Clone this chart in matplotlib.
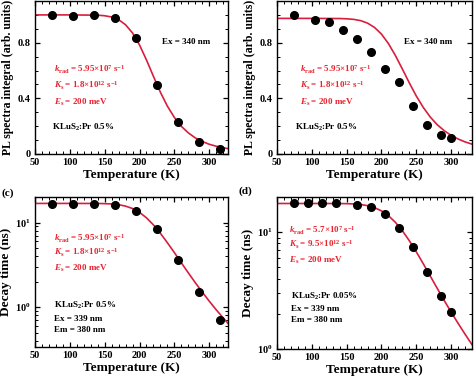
# PL integral and decay time vs temperature, four panels
import matplotlib
matplotlib.use("Agg")
import matplotlib.pyplot as plt
from matplotlib.ticker import MultipleLocator, NullFormatter, LogLocator, LogFormatterMathtext

plt.rcParams['font.family'] = 'Liberation Serif'
plt.rcParams['font.weight'] = 'bold'
plt.rcParams['mathtext.fontset'] = 'custom'
plt.rcParams['mathtext.rm'] = 'Liberation Serif:bold'
plt.rcParams['mathtext.it'] = 'Liberation Serif:italic:bold'
plt.rcParams['mathtext.bf'] = 'Liberation Serif:bold'

# data
# (a) PL integral, KLuS2:Pr 0.5%
temp_a = [75, 105, 135, 165, 195, 225, 255, 285, 315]
pl_a = [0.996, 0.99, 1.0, 0.975, 0.836, 0.498, 0.23, 0.086, 0.034]
# (b) PL integral
temp_b = [75, 105, 125, 145, 165, 185, 205, 225, 245, 265, 285, 300]
pl_b = [1.0, 0.96, 0.95, 0.89, 0.826, 0.733, 0.613, 0.515, 0.347, 0.206, 0.137, 0.113]
# (c) decay time, 0.5%
temp_c = [75, 105, 135, 165, 195, 225, 255, 285, 315]
tau_c = [16.4, 16.4, 16.4, 16.0, 13.6, 8.5, 3.6, 1.51, 0.70]
# (d) decay time, 0.05%
temp_d = [75, 95, 115, 135, 165, 185, 205, 225, 245, 265, 285, 300]
tau_d = [17.6, 17.6, 17.6, 17.6, 17.0, 16.3, 14.4, 10.9, 7.40, 4.58, 2.86, 2.06]

# fitted curves
fit_t = [50, 100, 140, 150, 160, 170, 180, 190, 200, 210, 220, 230, 240,
         250, 260, 270, 280, 290, 300, 310, 320, 330]
fit_a = [1.0, 1.0, 0.998, 0.994, 0.985, 0.966, 0.929, 0.870, 0.784, 0.676, 0.558,
         0.444, 0.344, 0.263, 0.199, 0.152, 0.116, 0.090, 0.070, 0.056, 0.045, 0.036]
fit_b = [0.975, 0.975, 0.974, 0.972, 0.968, 0.959, 0.941, 0.910, 0.862, 0.794, 0.708,
         0.611, 0.511, 0.417, 0.335, 0.266, 0.211, 0.168, 0.134, 0.108, 0.087, 0.071]
fit_c = [16.8, 16.8, 16.77, 16.70, 16.55, 16.23, 15.61, 14.62, 13.17, 11.36, 9.37,
         7.46, 5.78, 4.42, 3.35, 2.55, 1.954, 1.512, 1.183, 0.936, 0.750, 0.607]
fit_d = [17.6, 17.6, 17.58, 17.54, 17.45, 17.25, 16.87, 16.22, 15.22, 13.84, 12.14,
         10.29, 8.45, 6.79, 5.37, 4.22, 3.31, 2.61, 2.07, 1.66, 1.34, 1.09]

red = '#d81e3c'
txt_red = '#e8232f'

W, H = 474, 380
fig = plt.figure(figsize=(W / 100, H / 100), dpi=100)


def add_ax(l, t, r, b):
    return fig.add_axes([l / W, 1 - b / H, (r - l) / W, (b - t) / H])


def style(ax):
    ax.tick_params(which='both', direction='in', top=True, right=True,
                   labelsize=7.5, pad=3)
    ax.tick_params(which='major', length=3.5, width=0.9)
    ax.tick_params(which='minor', length=2, width=0.7)
    for s in ax.spines.values():
        s.set_linewidth(1.0)
    ax.xaxis.set_major_locator(MultipleLocator(50))
    ax.xaxis.set_minor_locator(MultipleLocator(10))
    ax.set_xlabel('Temperature (K)', fontsize=9.5, fontweight='bold', labelpad=1)


def params(ax, x, y, krad, ks, dy):
    ax.text(x, y, r'$k_{\mathrm{rad}}$ = ' + krad + r'$\times$10$^{7}$ s$^{-1}$',
            transform=ax.transAxes, color=txt_red, fontsize=6.5, fontweight='bold')
    ax.text(x, y - dy, r'$K_{\mathrm{s}}$ = ' + ks + r'$\times$10$^{12}$ s$^{-1}$',
            transform=ax.transAxes, color=txt_red, fontsize=6.5, fontweight='bold')
    ax.text(x, y - 2 * dy, r'$E_{\mathrm{s}}$ = 200 meV',
            transform=ax.transAxes, color=txt_red, fontsize=6.5, fontweight='bold')


def pl_fmt(v, pos):
    return '0' if v == 0 else '%.1f' % v


# (a)
ax = add_ax(35, 1, 228, 154)
ax.plot(fit_t, fit_a, color=red, lw=1.2)
ax.plot(temp_a, pl_a, 'o', color='black', ms=5.5)
ax.set_xlim(50, 327)
ax.set_ylim(0, 1.1)
style(ax)
ax.yaxis.set_major_locator(MultipleLocator(0.4))
ax.yaxis.set_minor_locator(MultipleLocator(0.1))
ax.yaxis.set_major_formatter(pl_fmt)
ax.set_ylabel('PL spectra integral (arb. units)', fontsize=8.5, fontweight='bold', labelpad=3)
ax.text(0.66, 0.72, 'Ex = 340 nm', transform=ax.transAxes, fontsize=6.5)
params(ax, 0.10, 0.53, '5.95', '1.8', 0.105)
ax.text(0.09, 0.16, r'KLuS$_{2}$:Pr 0.5%', transform=ax.transAxes, fontsize=6.5)

# (b)
ax = add_ax(277, 1, 472, 154)
ax.plot(fit_t, fit_b, color=red, lw=1.2)
ax.plot(temp_b, pl_b, 'o', color='black', ms=5.5)
ax.set_xlim(50, 330)
ax.set_ylim(0, 1.1)
style(ax)
ax.yaxis.set_major_locator(MultipleLocator(0.4))
ax.yaxis.set_minor_locator(MultipleLocator(0.1))
ax.yaxis.set_major_formatter(pl_fmt)
ax.set_ylabel('PL spectra integral (arb. units)', fontsize=8.5, fontweight='bold', labelpad=3)
ax.text(0.65, 0.72, 'Ex = 340 nm', transform=ax.transAxes, fontsize=6.5)
params(ax, 0.12, 0.53, '5.95', '1.8', 0.105)
ax.text(0.09, 0.16, r'KLuS$_{2}$:Pr 0.5%', transform=ax.transAxes, fontsize=6.5)

# (c)
ax = add_ax(35, 197, 228, 347)
ax.plot(fit_t, fit_c, color=red, lw=1.2)
ax.plot(temp_c, tau_c, 'o', color='black', ms=5.5)
ax.set_yscale('log')
ax.set_xlim(50, 327)
ax.set_ylim(0.34, 20)
style(ax)
ax.yaxis.set_major_locator(LogLocator(base=10))
ax.yaxis.set_major_formatter(LogFormatterMathtext())
ax.yaxis.set_minor_locator(LogLocator(base=10, subs=range(2, 10)))
ax.yaxis.set_minor_formatter(NullFormatter())
ax.set_ylabel('Decay time (ns)', fontsize=9.5, fontweight='bold', labelpad=2)
params(ax, 0.10, 0.70, '5.95', '1.8', 0.095)
ax.text(0.10, 0.26, r'KLuS$_{2}$:Pr 0.5%', transform=ax.transAxes, fontsize=6.5)
ax.text(0.10, 0.175, 'Ex = 339 nm', transform=ax.transAxes, fontsize=6.5)
ax.text(0.10, 0.10, 'Em = 380 nm', transform=ax.transAxes, fontsize=6.5)
fig.text(2 / W, 1 - 193 / H, '(c)', fontsize=8, fontweight='bold', va='center')

# (d)
ax = add_ax(277, 197, 472, 349)
ax.plot(fit_t, fit_d, color=red, lw=1.2)
ax.plot(temp_d, tau_d, 'o', color='black', ms=5.5)
ax.set_yscale('log')
ax.set_xlim(50, 330)
ax.set_ylim(1, 20)
style(ax)
ax.yaxis.set_major_locator(LogLocator(base=10))
ax.yaxis.set_major_formatter(LogFormatterMathtext())
ax.yaxis.set_minor_locator(LogLocator(base=10, subs=range(2, 10)))
ax.yaxis.set_minor_formatter(NullFormatter())
ax.set_ylabel('Decay time (ns)', fontsize=9.5, fontweight='bold', labelpad=2)
params(ax, 0.06, 0.76, '5.7', '9.5', 0.095)
ax.text(0.07, 0.33, r'KLuS$_{2}$:Pr 0.05%', transform=ax.transAxes, fontsize=6.5)
ax.text(0.07, 0.25, 'Ex = 339 nm', transform=ax.transAxes, fontsize=6.5)
ax.text(0.07, 0.175, 'Em = 380 nm', transform=ax.transAxes, fontsize=6.5)
fig.text(239 / W, 1 - 191 / H, '(d)', fontsize=8, fontweight='bold', va='center')

fig.savefig('out.png', dpi=100)
